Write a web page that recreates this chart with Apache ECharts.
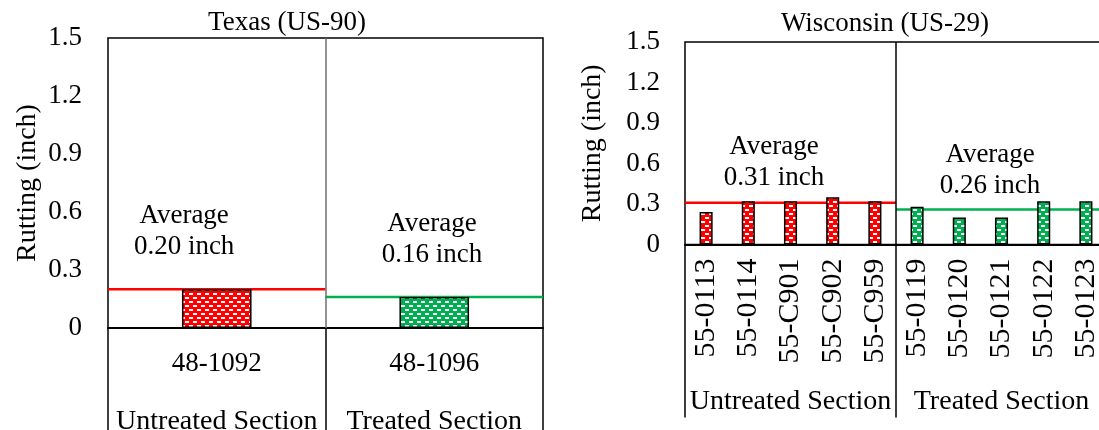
<!DOCTYPE html>
<html>
<head>
<meta charset="utf-8">
<script src="https://cdn.jsdelivr.net/npm/echarts@6/dist/echarts.min.js"></script>
<style>
html,body{margin:0;padding:0;background:#fff;}
#c{width:1099px;height:430px;}
</style>
</head>
<body>
<div id="c"></div>
<script>
// ---------- data ----------
const texasSites = ['48-1092', '48-1096'];
const texasUntreated = [0.20, null];
const texasTreated = [null, 0.16];
const texasAvg = [0.20, 0.16];

const wiSites = ['55-0113', '55-0114', '55-C901', '55-C902', '55-C959',
                 '55-0119', '55-0120', '55-0121', '55-0122', '55-0123'];
const wiUntreated = [0.24, 0.32, 0.32, 0.35, 0.32, null, null, null, null, null];
const wiTreated = [null, null, null, null, null, 0.28, 0.20, 0.20, 0.32, 0.32];
const wiAvg = [0.31, 0.26];

const sections = ['Untreated Section', 'Treated Section'];
const titles = ['Texas (US-90)', 'Wisconsin (US-29)'];
const yName = 'Rutting (inch)';
const yMin = 0, yMax = 1.5, yStep = 0.3;

// ---------- styles ----------
const FF = '"Liberation Serif", "Times New Roman", serif';
const RED = '#ff0000', GREEN = '#00b050';

function pattern(color) {
  const c = document.createElement('canvas');
  c.width = 8; c.height = 8;
  const g = c.getContext('2d');
  g.fillStyle = color; g.fillRect(0, 0, 8, 8);
  g.fillStyle = '#ffffff';
  g.fillRect(1, 1, 4, 2);
  g.fillRect(5, 5, 3, 2);
  g.fillRect(0, 5, 1, 2);
  return { image: c, repeat: 'repeat' };
}
const redPat = pattern(RED), greenPat = pattern(GREEN);

const txt = (size) => ({ fontFamily: FF, fontSize: size, color: '#000' });

function yAxis(gi, gap, margin) {
  return {
    type: 'value', gridIndex: gi, min: yMin, max: yMax, interval: yStep,
    name: yName, nameLocation: 'middle', nameGap: gap, nameRotate: 90,
    nameTextStyle: txt(28),
    axisLine: { show: false }, axisTick: { show: false }, splitLine: { show: false },
    axisLabel: Object.assign(txt(27), {
      margin: margin,
      formatter: v => (v === 0 ? '0' : v.toFixed(1))
    })
  };
}

function avgLabel(v) { return 'Average\n' + v.toFixed(2) + ' inch'; }

function barSeries(xi, yi, data, pat, w) {
  return {
    type: 'bar', xAxisIndex: xi, yAxisIndex: yi, data: data,
    barWidth: w, barGap: '-100%', z: 3,
    itemStyle: { color: pat, borderColor: '#000', borderWidth: 1.5 }
  };
}
function avgLine(xi, yi, from, to, v, color) {
  return {
    type: 'line', xAxisIndex: xi, yAxisIndex: yi, z: 2,
    data: [[from, v], [to, v]], symbol: 'none', silent: true,
    lineStyle: { color: color, width: 2.5 }
  };
}
function labelSeries(xi, yi, pos, v) {
  return {
    type: 'scatter', xAxisIndex: xi, yAxisIndex: yi, symbolSize: 0, silent: true, z: 5,
    data: [pos],
    itemStyle: { opacity: 1, color: '#000' },
    label: Object.assign(txt(27), {
      show: true, position: 'inside', lineHeight: 31, opacity: 1,
      textBorderWidth: 0,
      formatter: () => avgLabel(v)
    })
  };
}

const chart = echarts.init(document.getElementById('c'), null, { renderer: 'canvas' });

const option = {
  animation: false,
  backgroundColor: '#fff',
  grid: [
    { left: 108, top: 38, width: 435, height: 290, show: true, borderColor: '#000',
      borderWidth: 1.5, containLabel: false, outerBoundsMode: 'none' },
    { left: 685, top: 42, width: 422, height: 202.5, show: true, borderColor: '#000',
      borderWidth: 1.5, containLabel: false, outerBoundsMode: 'none' }
  ],
  graphic: [
    { type: 'text', x: 287, y: 23, silent: true,
      style: { text: titles[0], fontFamily: FF, fontSize: 27, fill: '#000', align: 'center', verticalAlign: 'middle' } },
    { type: 'text', x: 885, y: 24, silent: true,
      style: { text: titles[1], fontFamily: FF, fontSize: 27, fill: '#000', align: 'center', verticalAlign: 'middle' } }
  ],
  xAxis: [
    { type: 'category', gridIndex: 0, data: texasSites, position: 'bottom',
      axisLine: { lineStyle: { color: '#000', width: 2 } }, axisTick: { show: false },
      axisLabel: Object.assign(txt(27), { margin: 22, interval: 0 }) },
    { type: 'category', gridIndex: 0, data: sections, position: 'bottom',
      axisLine: { show: false },
      axisTick: { show: true, length: 106, lineStyle: { color: '#000', width: 1.5 } },
      axisLabel: Object.assign(txt(28), { margin: 80, interval: 0 }) },
    { type: 'value', gridIndex: 0, min: 0, max: texasSites.length, show: false },

    { type: 'category', gridIndex: 1, data: wiSites, position: 'bottom',
      axisLine: { lineStyle: { color: '#000', width: 2 } }, axisTick: { show: false },
      axisLabel: Object.assign(txt(30), { margin: 14, rotate: 90, interval: 0 }) },
    { type: 'category', gridIndex: 1, data: sections, position: 'bottom',
      axisLine: { show: false },
      axisTick: { show: true, length: 173, lineStyle: { color: '#000', width: 1.5 } },
      axisLabel: Object.assign(txt(28), { margin: 143, interval: 0 }) },
    { type: 'value', gridIndex: 1, min: 0, max: wiSites.length, show: false }
  ],
  yAxis: [yAxis(0, 66, 26), yAxis(1, 78, 25)],
  series: [
    // Texas
    Object.assign(avgLine(2, 0, 0, 1, texasAvg[0], RED), {
      markLine: { silent: true, symbol: 'none', label: { show: false },
        lineStyle: { color: '#6f6f6f', width: 1.5, type: 'solid' }, data: [{ xAxis: 1 }] }
    }),
    avgLine(2, 0, 1, 2, texasAvg[1], GREEN),
    barSeries(0, 0, texasUntreated, redPat, '32%'),
    barSeries(0, 0, texasTreated, greenPat, '32%'),
    labelSeries(2, 0, [0.35, 0.50], texasAvg[0]),
    labelSeries(2, 0, [1.49, 0.46], texasAvg[1]),
    // Wisconsin
    Object.assign(avgLine(5, 1, 0, 5, wiAvg[0], RED), {
      markLine: { silent: true, symbol: 'none', label: { show: false },
        lineStyle: { color: '#000', width: 1.5, type: 'solid' }, data: [{ xAxis: 5 }] }
    }),
    avgLine(5, 1, 5, 10, wiAvg[1], GREEN),
    barSeries(3, 1, wiUntreated, redPat, '31%'),
    barSeries(3, 1, wiTreated, greenPat, '31%'),
    labelSeries(5, 1, [2.11, 0.61], wiAvg[0]),
    labelSeries(5, 1, [7.23, 0.546], wiAvg[1])
  ]
};
chart.setOption(option);
</script>
</body>
</html>
